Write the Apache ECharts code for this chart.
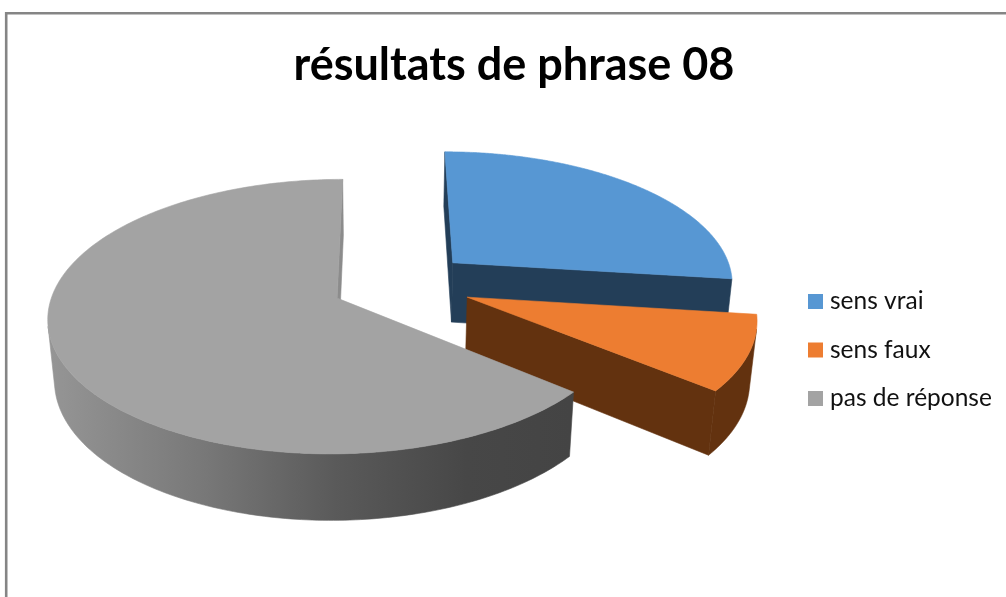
<!DOCTYPE html>
<html>
<head>
<meta charset="utf-8">
<style>
  html, body { margin: 0; padding: 0; background: #fff; }
  #chart { width: 1006px; height: 597px; }
</style>
<script src="https://cdn.jsdelivr.net/npm/echarts@6/dist/echarts.min.js"></script>
</head>
<body>
<div id="chart"></div>
<script>
const titleText = 'résultats de phrase 08'
const categories = ['sens vrai', 'sens faux', 'pas de réponse']
const values = [27, 9, 64]

const topColors = ['#5797d3', '#ed7d31', '#a3a3a3']
const wallColors = ['#233e58', '#63320f', '#8c8c8c']

// fake 3D view: disc coordinates (u, v, h) to screen, with some perspective
const view = { cx: 384, cy: 299, a: 286, b: 135, k: 0.135, d: 62, m: 0.02 }
const origin = [0.062, -0.113]
const explode = 0.25

function project(u, v, h) {
  const w = 1 - view.k * v + view.m * h
  return [view.cx + view.a * u / w, view.cy + (view.b * v + view.d * h) / w]
}

const total = values.reduce((s, x) => s + x, 0)

function sliceRange(index) {
  let sum = 0
  for (let i = 0; i < index; i++) sum += values[i]
  return [sum / total * Math.PI * 2, (sum + values[index]) / total * Math.PI * 2]
}

// signed area on screen, tells which walls face the viewer
function area(points) {
  let s = 0
  points.forEach((p, i) => {
    const q = points[(i + 1) % points.length]
    s += p[0] * q[1] - q[0] * p[1]
  })
  return s
}

// gradient of the grey outer wall runs left to right in screen space
function greyWall() {
  return new echarts.graphic.LinearGradient(46, 0, 572, 0, [
    { offset: 0, color: '#969696' },
    { offset: 0.3, color: '#787878' },
    { offset: 0.55, color: '#5a5a5a' },
    { offset: 0.8, color: '#474747' },
    { offset: 1, color: '#444444' },
  ], true)
}

function renderSlice(index) {
  const [start, end] = sliceRange(index)
  const mid = (start + end) / 2
  // every slice is pulled out along its own bisector
  const ou = origin[0] + explode * Math.sin(mid)
  const ov = origin[1] - explode * Math.cos(mid)
  const at = (t, h) => project(ou + Math.sin(t), ov - Math.cos(t), h)
  const steps = 240
  const angle = (i) => start + (end - start) * i / steps
  const poly = (points, fill) => ({
    type: 'polygon',
    shape: { points },
    style: { fill, stroke: fill, lineWidth: 0.6 },
  })
  const centerTop = project(ou, ov, 0)
  const centerBottom = project(ou, ov, 1)
  const children = []

  const startQuad = [centerTop, at(start, 0), at(start, 1), centerBottom]
  const endQuad = [centerTop, at(end, 0), at(end, 1), centerBottom]
  if (area(startQuad) < 0) children.push(poly(startQuad, wallColors[index]))
  if (area(endQuad) > 0) children.push(poly(endQuad, wallColors[index]))

  // only the stretch of the outer wall that faces the viewer
  const wallFill = index === 2 ? greyWall() : wallColors[index]
  const upper = []
  const lower = []
  for (let i = 0; i < steps; i++) {
    const quad = [at(angle(i), 0), at(angle(i + 1), 0), at(angle(i + 1), 1), at(angle(i), 1)]
    if (area(quad) < 0) {
      if (!upper.length) {
        upper.push(quad[0])
        lower.push(quad[3])
      }
      upper.push(quad[1])
      lower.push(quad[2])
    }
  }
  if (upper.length) children.push(poly(upper.concat(lower.reverse()), wallFill))

  const rim = []
  for (let i = 0; i <= steps; i++) rim.push(at(angle(i), 0))
  children.push(poly([centerTop].concat(rim), topColors[index]))
  return { type: 'group', children }
}

const chart = echarts.init(document.getElementById('chart'))
chart.setOption({
  animation: false,
  backgroundColor: '#ffffff',
  title: {
    text: titleText,
    left: 509,
    top: 38,
    textAlign: 'center',
    textStyle: { fontFamily: 'Lato', fontWeight: 'bold', fontSize: 45, color: '#000000' },
  },
  legend: {
    data: categories,
    orient: 'vertical',
    left: 803,
    top: 284,
    icon: 'rect',
    itemWidth: 15,
    itemHeight: 15,
    itemGap: 23.5,
    selectedMode: false,
    textStyle: { fontFamily: 'Lato', fontSize: 24.5, color: '#111111', padding: [2, 0, 0, 2] },
  },
  graphic: [
    {
      type: 'polyline',
      silent: true,
      shape: { points: [[6.2, 597], [6.2, 13.2], [1006, 13.2]] },
      style: { fill: null, stroke: '#858585', lineWidth: 2.6 },
    },
  ],
  series: categories.map((name, i) => ({
    type: 'custom',
    name,
    coordinateSystem: 'none',
    silent: true,
    itemStyle: { color: topColors[i] },
    data: [[values[i]]],
    renderItem: () => renderSlice(i),
  })),
})
</script>
</body>
</html>
